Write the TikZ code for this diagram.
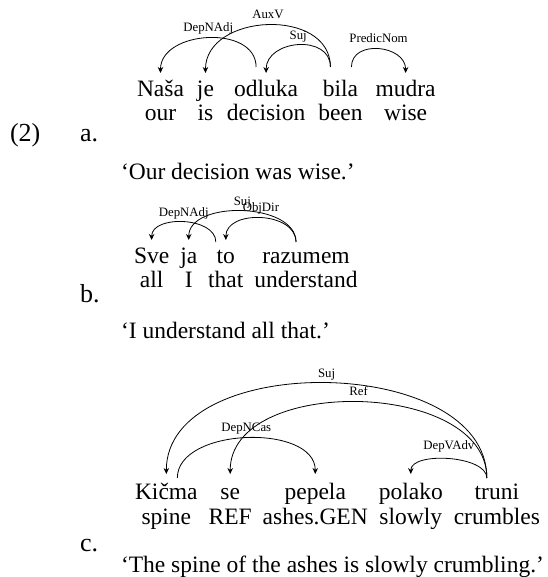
\documentclass[tikz,border=0pt]{standalone}
\usepackage{fontspec}
\setmainfont{Liberation Serif}
\usetikzlibrary{matrix,arrows.meta,calc}
\begin{document}
\begin{tikzpicture}[x=1pt,y=-1pt,
  wd/.style={font=\fontsize{23.5}{28}\selectfont, inner sep=0pt, outer sep=0pt, text height=17pt, text depth=6pt, anchor=base},
  txt/.style={wd, anchor=base west},
  numlbl/.style={txt, font=\fontsize{26}{30}\selectfont},
  gl/.style={matrix of nodes, inner sep=0pt, outer sep=0pt, row sep=1pt, nodes={wd}, anchor=north west},
  dep/.style={draw=black, line width=0.8pt, -{Stealth[length=6pt,width=5.5pt]}},
  lbl/.style={midway, anchor=base, yshift=6pt, inner sep=0pt, font=\fontsize{12.8}{14}\selectfont}
]
\useasboundingbox (0,0) rectangle (547,577);

% ---------- (2) a. ----------
\node[numlbl] (num) at (10,142) {(2)};
\node[numlbl] (la) at (80,142) {a.};
\matrix[gl, column sep=13pt] (ma) at (137,80) {
  Naša & je & odluka & bila & mudra \\
  our & is & decision & been & wise \\
};
\node[txt] (ta) at (121,180) {‘Our decision was wise.’};

\coordinate (a1t) at (ma-1-1.base |- 0,73);
\coordinate (a2t) at (ma-1-2.base |- 0,73);
\coordinate (a3t) at (ma-1-3.base |- 0,73);
\coordinate (a5t) at (ma-1-5.base |- 0,73);
\coordinate (a3s) at ($(ma-1-3.base |- 0,67)+(-10,0)$);
\coordinate (a4sl) at ($(ma-1-4.base |- 0,67)+(-10,0)$);
\coordinate (a4sr) at ($(ma-1-4.base |- 0,67)+(11,0)$);

\draw[dep] (a3s) .. controls +(0,-42.7) and +(0,-42.7) .. (a1t) node[lbl]{DepNAdj};
\draw[dep] (a4sl) .. controls +(0,-60) and +(0,-60) .. (a2t) node[lbl]{AuxV};
\draw[dep] (a4sl) .. controls +(0,-33.3) and +(0,-33.3) .. (a3t) node[lbl]{Suj};
\draw[dep] (a4sr) .. controls +(0,-28) and +(0,-28) .. (a5t) node[lbl]{PredicNom};

% ---------- b. ----------
\node[numlbl] (lb) at (80,302) {b.};
\matrix[gl, column sep=11pt] (mb) at (134,246) {
  Sve & ja & to & razumem \\
  all & I & that & understand \\
};
\node[txt] (tb) at (121,338) {‘I understand all that.’};

\coordinate (b1t) at (mb-1-1.base |- 0,240);
\coordinate (b2t) at (mb-1-2.base |- 0,240);
\coordinate (b3t) at (mb-1-3.base |- 0,240);
\coordinate (b3s) at ($(mb-1-3.base |- 0,242)+(-10,0)$);
\coordinate (b4s) at ($(mb-1-4.base |- 0,242)+(-10,0)$);

\draw[dep] (b3s) .. controls +(0,-25.3) and +(0,-25.3) .. (b1t) node[lbl]{DepNAdj};
\draw[dep] (b4s) .. controls +(0,-40) and +(0,-40) .. (b2t) node[lbl]{Suj};
\draw[dep] (b4s) .. controls +(0,-30.7) and +(0,-30.7) .. (b3t) node[lbl]{ObjDir};

% ---------- c. ----------
\node[numlbl] (lc) at (80,551) {c.};
\matrix[gl, column sep=11pt, row sep=2pt] (mc) at (135,482) {
  Kičma & se & pepela & polako & truni \\
  spine & REF & ashes.GEN & slowly & crumbles \\
};
\node[txt] (tc) at (121,572) {‘The spine of the ashes is slowly crumbling.’};

\coordinate (c1t) at (mc-1-1.base |- 0,474);
\coordinate (c2t) at (mc-1-2.base |- 0,474);
\coordinate (c3t) at (mc-1-3.base |- 0,474);
\coordinate (c4t) at (mc-1-4.base |- 0,474);
\coordinate (c1s) at ($(mc-1-1.base |- 0,478)+(11,0)$);
\coordinate (c5s) at ($(mc-1-5.base |- 0,478)+(-10,0)$);

\draw[dep] (c5s) .. controls +(0,-124) and +(0,-124) .. (c1t) node[lbl]{Suj};
\draw[dep] (c5s) .. controls +(0,-98.7) and +(0,-98.7) .. (c2t) node[lbl]{Ref};
\draw[dep] (c1s) .. controls +(0,-50.7) and +(0,-50.7) .. (c3t) node[lbl]{DepNCas};
\draw[dep] (c5s) .. controls +(0,-22.7) and +(0,-22.7) .. (c4t) node[lbl, yshift=3pt]{DepVAdv};
\end{tikzpicture}
\end{document}
